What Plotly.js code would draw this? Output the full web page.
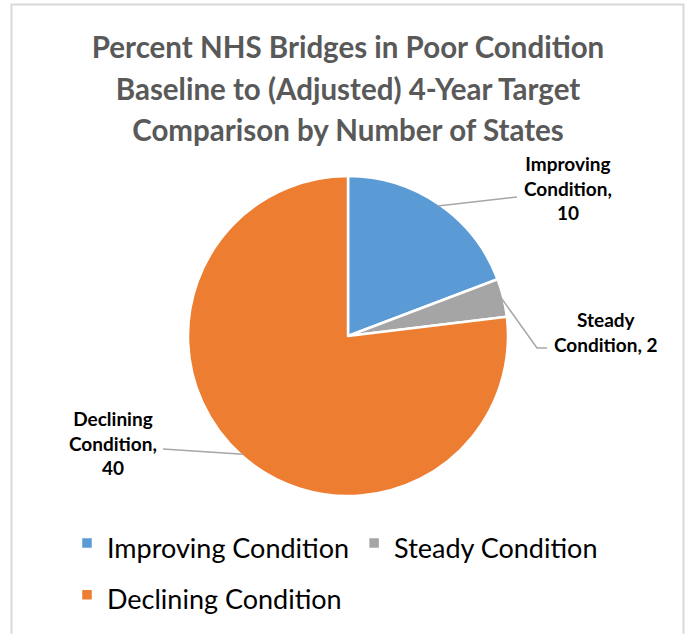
<!DOCTYPE html>
<html>
<head>
<meta charset="utf-8">
<script src="https://cdn.plot.ly/plotly-3.0.1.min.js"></script>
<style>
  html, body { margin: 0; padding: 0; background: #ffffff; }
  #chart { width: 688px; height: 634px; }
</style>
</head>
<body>
<div id="chart"></div>
<script>
// ---- data ----
const categories = ['Improving Condition', 'Steady Condition', 'Declining Condition'];
const stateCounts = [10, 2, 40];
const chartTitleLines = ['Percent NHS Bridges in Poor Condition', 'Baseline to (Adjusted) 4-Year Target', 'Comparison by Number of States'];

// ---- style / layout ----
const W = 688, H = 634;
const sliceColors = ['#5B9BD5', '#A5A5A5', '#ED7D31'];
const FONT = 'Lato, "Open Sans", sans-serif';
const pieCx = 348, pieCy = 336, pieR = 158;
// label placement (pixels): text centre and leader end points
const labelLayout = [
  { breaks: ['<br>', ',<br>'], tx: 568, ty: 188, lineEnd: [[517, 197]] },
  { breaks: ['<br>', ', '], tx: 606, ty: 332, lineEnd: [[537, 348], [547, 348]] },
  { breaks: ['<br>', ',<br>'], tx: 113, ty: 443, lineEnd: [[163, 449]] }
];

const px = x => x / W;
const py = y => 1 - y / H;

const total = stateCounts.reduce((a, b) => a + b, 0);
let cum = 0;
const shapes = [];
const annotations = [];
categories.forEach((cat, i) => {
  const mid = (cum + stateCounts[i] / 2) / total * 2 * Math.PI;
  cum += stateCounts[i];
  const ex = pieCx + pieR * Math.sin(mid);
  const ey = pieCy - pieR * Math.cos(mid);
  const L = labelLayout[i];
  let path = 'M' + px(ex) + ',' + py(ey);
  L.lineEnd.forEach(p => { path += ' L' + px(p[0]) + ',' + py(p[1]); });
  shapes.push({ type: 'path', xref: 'paper', yref: 'paper', path: path,
                line: { color: '#A6A6A6', width: 1.5 } });
  const words = cat.split(' ');
  const txt = words[0] + L.breaks[0] + words[1] + L.breaks[1] + stateCounts[i];
  annotations.push({
    xref: 'paper', yref: 'paper', x: px(L.tx), y: py(L.ty),
    xanchor: 'center', yanchor: 'middle', showarrow: false,
    text: txt,
    font: { family: FONT, size: 19, color: '#000000', weight: 700 },
    align: 'center'
  });
});

// chart border
shapes.push({ type: 'rect', xref: 'paper', yref: 'paper',
  x0: px(11.5), x1: px(683.5), y0: py(4.5), y1: py(650),
  line: { color: '#D9D9D9', width: 2 }, fillcolor: 'rgba(0,0,0,0)' });

const domR = pieR + 2;
const trace = {
  type: 'pie',
  labels: categories.map(c => '<span style="font-size:27px">' + c + '</span>'),
  values: stateCounts,
  sort: false,
  direction: 'clockwise',
  rotation: 0,
  textinfo: 'none',
  hoverinfo: 'label+value',
  marker: { colors: sliceColors, line: { color: '#FFFFFF', width: 2.5 } },
  domain: { x: [px(pieCx - domR), px(pieCx + domR)], y: [py(pieCy + domR), py(pieCy - domR)] },
  showlegend: true
};

const layout = {
  width: W, height: H,
  margin: { l: 0, r: 0, t: 0, b: 0 },
  paper_bgcolor: '#FFFFFF',
  title: {
    text: '<span style="font-size:29.5px">' + chartTitleLines.join('<br>') + '</span>',
    font: { family: FONT, size: 32, color: '#595959', weight: 700 },
    x: px(348), xanchor: 'center', xref: 'paper',
    y: py(58), yanchor: 'middle', yref: 'container'
  },
  legend: {
    orientation: 'h', x: px(67), xanchor: 'left', y: py(512), yanchor: 'top',
    font: { family: FONT, size: 37.5, color: '#000000' },
    bgcolor: 'rgba(0,0,0,0)',
    traceorder: 'normal'
  },
  shapes: shapes,
  annotations: annotations
};

Plotly.newPlot('chart', [trace], layout, { displayModeBar: false, staticPlot: true });
</script>
</body>
</html>
